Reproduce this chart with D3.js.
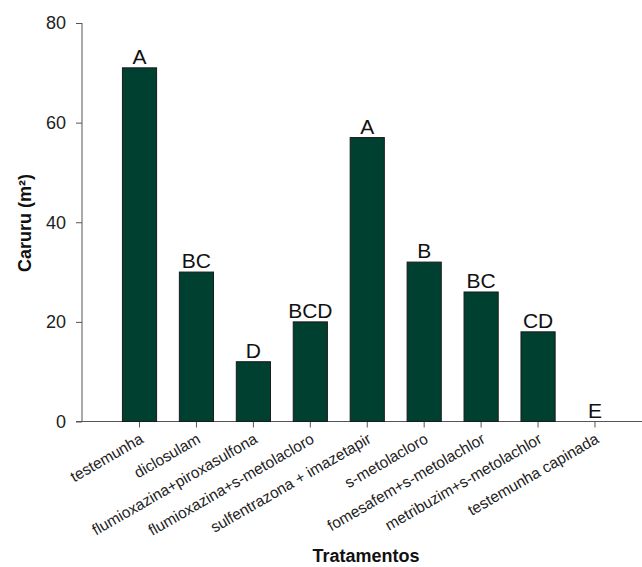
<!DOCTYPE html>
<html>
<head>
<meta charset="utf-8">
<script src="https://cdn.jsdelivr.net/npm/d3@7"></script>
<style>
  body { margin: 0; background: #fff; }
  text { font-family: "Liberation Sans", Arial, sans-serif; }
</style>
</head>
<body>
<div id="chart"></div>
<script>
// chart data
var tratamentos = ["testemunha", "diclosulam", "flumioxazina+piroxasulfona",
  "flumioxazina+s-metolacloro", "sulfentrazona +  imazetapir", "s-metolacloro",
  "fomesafem+s-metolachlor", "metribuzim+s-metolachlor", "testemunha capinada"]
var caruru = [71, 30, 12, 20, 57, 32, 26, 18, 0]
var letras = ["A", "BC", "D", "BCD", "A", "B", "BC", "CD", "E"]
var yTicks = [0, 20, 40, 60, 80]

var width = 642,
    height = 567

var svg = d3.select("#chart")
  .append("svg")
    .attr("width", width)
    .attr("height", height)

var x = d3.scaleBand()
  .domain(tratamentos)
  .range([82, 652.5])
  .paddingInner(0.4)
  .paddingOuter(0.71)

var y = d3.scaleLinear()
  .domain([0, 80])
  .range([421.5, 23])

var axisColor = "#555"

// y axis
var yAxis = svg.append("g")
  .attr("transform", "translate(82,0)")
  .call(d3.axisLeft(y).tickValues(yTicks).tickSize(6).tickPadding(10))
yAxis.select(".domain").attr("d", "M0," + y(80) + "V" + y(0)).attr("stroke", axisColor)
yAxis.selectAll(".tick line").attr("stroke", axisColor)
yAxis.selectAll(".tick text")
  .attr("fill", "#222")
  .style("font-size", "18px")

// x axis
var xAxis = svg.append("g")
  .attr("transform", "translate(0," + y(0) + ")")
  .call(d3.axisBottom(x).tickSize(6).tickSizeOuter(0))
xAxis.select(".domain").attr("d", "M76,0H" + width).attr("stroke", axisColor)
xAxis.selectAll(".tick line").attr("stroke", axisColor)
xAxis.selectAll(".tick text")
  .attr("fill", "#222")
  .style("font-size", "15.5px")
  .attr("text-anchor", "end")
  .attr("dy", null)
  .attr("y", 0)
  .attr("transform", "translate(5,20.5) rotate(-30)")

// bars
svg.selectAll("rect.bar")
  .data(caruru)
  .enter()
  .append("rect")
    .attr("class", "bar")
    .attr("x", function(d, i) { return x(tratamentos[i]) })
    .attr("y", function(d) { return y(d) })
    .attr("width", x.bandwidth())
    .attr("height", function(d) { return y(0) - y(d) })
    .attr("fill", "#004030")
    .attr("stroke", "#1a1a1a")
    .attr("stroke-width", 1)

// letters over bars
svg.selectAll("text.letra")
  .data(letras)
  .enter()
  .append("text")
    .attr("class", "letra")
    .attr("x", function(d, i) { return x(tratamentos[i]) + x.bandwidth() / 2 })
    .attr("y", function(d, i) { return y(caruru[i]) - 4 })
    .attr("text-anchor", "middle")
    .style("font-size", "21px")
    .attr("fill", "#111")
    .text(function(d) { return d })

// titles
svg.append("text")
  .attr("transform", "translate(31,223) rotate(-90)")
  .attr("text-anchor", "middle")
  .style("font-size", "18px")
  .style("font-weight", "bold")
  .attr("fill", "#111")
  .text("Caruru (m²)")

svg.append("text")
  .attr("x", 366)
  .attr("y", 562)
  .attr("text-anchor", "middle")
  .style("font-size", "18px")
  .style("font-weight", "bold")
  .attr("fill", "#111")
  .text("Tratamentos")
</script>
</body>
</html>
